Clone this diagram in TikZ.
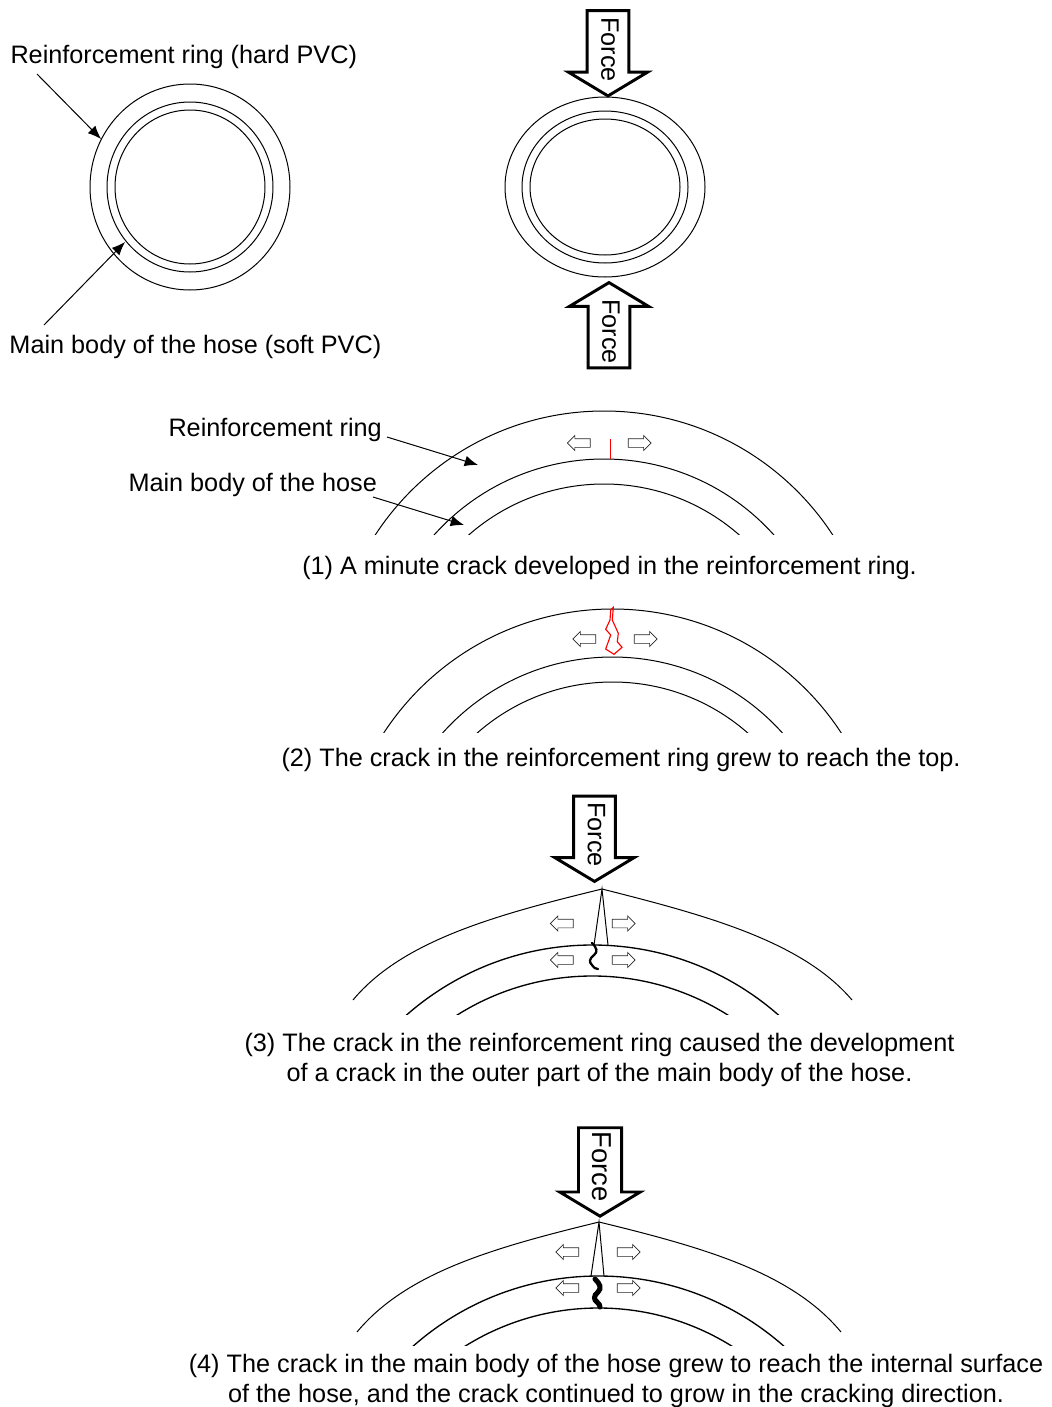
\documentclass[tikz,border=0pt]{standalone}
\usepackage{fontspec}
\setmainfont{Liberation Sans}
\usetikzlibrary{arrows.meta,shapes.arrows}

\begin{document}
\begin{tikzpicture}[
  x=0.75pt, y=-0.75pt,
  line width=0.75pt,
  label/.style={font=\fontsize{18.93}{22.5}\selectfont, inner sep=0pt, anchor=base west},
  caption/.style={font=\fontsize{18.93}{22.5}\selectfont, inner sep=0pt, align=center},
  leader/.style={-{Latex[length=10pt,width=8pt]}, line width=0.75pt},
  forcearrow/.style={draw, single arrow, line width=2.2pt, rotate=-90, inner xsep=0pt, inner ysep=6.5pt, text depth=3pt, minimum height=64pt,
    minimum width=59pt, single arrow head extend=14pt, single arrow tip angle=118, font=\fontsize{18.93}{22.5}\selectfont},
  strain/.style={draw=black!85, single arrow, line width=0.5pt, inner xsep=0pt, inner ysep=3pt, minimum height=17.2pt,
    minimum width=11pt, single arrow head extend=2.4pt, single arrow tip angle=90},
  strainleft/.style={strain, shape border rotate=180}
]
  \useasboundingbox (0,0) rectangle (1051,1407);

  % undeformed section
  \draw (190,187) ellipse [x radius=100, y radius=103];
  \draw (190,187) ellipse [x radius=83, y radius=85];
  \draw (190,187) ellipse [x radius=75, y radius=77];
  \node[label] (ringlabel) at (10,63) {Reinforcement ring (hard PVC)};
  \node[label] (bodylabel) at (9,353) {Main body of the hose (soft PVC)};
  \coordinate (ringstart) at (37,74);
  \coordinate (ringtip) at (101,139);
  \coordinate (bodystart) at (44,325);
  \coordinate (bodytip) at (125,242);
  \draw[leader] (ringstart) -- (ringtip);
  \draw[leader] (bodystart) -- (bodytip);

  % squeezed section
  \draw (605,187) ellipse [x radius=100, y radius=90];
  \draw (605,187) ellipse [x radius=83, y radius=76];
  \draw (605,187) ellipse [x radius=75, y radius=68];
  \node[forcearrow] (forcetop) at (608,47) {\hspace{4pt}Force};
  \node[forcearrow, shape border rotate=180] (forcebottom) at (609,331.5) {Force\hspace{3pt}};

  % (1) and (2)
  \foreach \cx/\dy in {604/0, 612.5/198} {
    \begin{scope}
      \clip (340,400+\dy) rectangle (860,534+\dy);
      \draw (\cx,684+\dy) ellipse [x radius=273, y radius=273];
      \draw (\cx,687+\dy) ellipse [x radius=228, y radius=228];
      \draw (\cx,689+\dy) ellipse [x radius=205, y radius=205];
    \end{scope}
  }
  \node[label] (ringshort) at (168,436) {Reinforcement ring};
  \node[label] (bodyshort) at (128,491) {Main body of the hose};
  \coordinate (ringshortstart) at (387,437);
  \coordinate (ringshorttip) at (478,465);
  \coordinate (bodyshortstart) at (373,497);
  \coordinate (bodyshorttip) at (464,525);
  \draw[leader] (ringshortstart) -- (ringshorttip);
  \draw[leader] (bodyshortstart) -- (bodyshorttip);
  \node[strainleft] (a1l) at (581,443) {};
  \node[strain] (a1r) at (637.5,443) {};
  \coordinate (crackatop) at (610,439);
  \coordinate (crackabot) at (610,459);
  \draw[red] (crackatop) -- (crackabot);
  \node[caption] (cap1) at (609.5,568) {(1) A minute crack developed in the reinforcement ring.};

  \node[strainleft] (a2l) at (586.5,639) {};
  \node[strain] (a2r) at (643.5,639) {};
  \draw[red, line width=0.85pt] (613.3,607.3) -- (610.7,610) -- (610,620) -- (605.7,629.3) -- (610.7,635) -- (605.7,649)
    -- (614,654.3) -- (622,647.3) -- (617.3,641.7) -- (618.3,633.3) -- (612.3,620) -- cycle;
  \node[caption] (cap2) at (621,760) {(2) The crack in the reinforcement ring grew to reach the top.};

  % (3)
  \node[forcearrow] (force3) at (594.5,832.5) {\hspace{3pt}Force};
  \draw (353,1000) .. controls (402,941) and (495,915) .. (602,889)
    .. controls (705,915) and (802,941) .. (852,1000);
  \begin{scope}
    \clip (340,900) rectangle (860,1014);
    \draw[line width=1pt] (592.5,1227) ellipse [x radius=282, y radius=282];
    \draw[line width=1pt] (592.5,1230) ellipse [x radius=254, y radius=254];
  \end{scope}
  \draw (594,945) -- (602,889) -- (608,945);
  \draw[line width=1.7pt, line cap=round] (592,943) .. controls (597,948) and (598,952) .. (594,955)
    .. controls (589,959) and (589,962) .. (592,965) .. controls (594,968) and (596,969) .. (598,969);
  \node[strainleft] (a3l) at (564,923.5) {};
  \node[strain] (a3r) at (621.5,923.5) {};
  \node[strainleft] (a3m) at (564,960) {};
  \node[strain] (a3n) at (621.5,960) {};
  \node[caption] (cap3) at (599.5,1060) {(3) The crack in the reinforcement ring caused the development\\of a crack in the outer part of the main body of the hose.};

  % (4)
  \node[forcearrow, font=\fontsize{20.5}{24}\selectfont] (force4) at (600,1165.5) {\hspace{2pt}Force};
  \draw (357,1332) .. controls (406,1273) and (492,1248) .. (599,1222)
    .. controls (706,1248) and (792,1273) .. (841,1332);
  \begin{scope}
    \clip (340,1230) rectangle (860,1345);
    \draw[line width=1pt] (598.5,1556) ellipse [x radius=280, y radius=280];
    \draw[line width=1pt] (598.5,1560) ellipse [x radius=252, y radius=252];
  \end{scope}
  \draw (591,1276) -- (599,1222) -- (604,1276);
  \draw[line width=3.8pt, line cap=round] (595,1279) .. controls (600,1284) and (602,1288) .. (598,1292)
    .. controls (593,1296) and (594,1300) .. (597,1302) .. controls (599,1304) and (600,1305) .. (600,1307);
  \node[strainleft] (a4l) at (569.5,1252) {};
  \node[strain] (a4r) at (626.5,1252) {};
  \node[strainleft] (a4m) at (569.5,1288) {};
  \node[strain] (a4n) at (626.5,1288) {};
  \node[caption] (cap4) at (616,1381) {(4) The crack in the main body of the hose grew to reach the internal surface\\of the hose, and the crack continued to grow in the cracking direction.};
\end{tikzpicture}
\end{document}
